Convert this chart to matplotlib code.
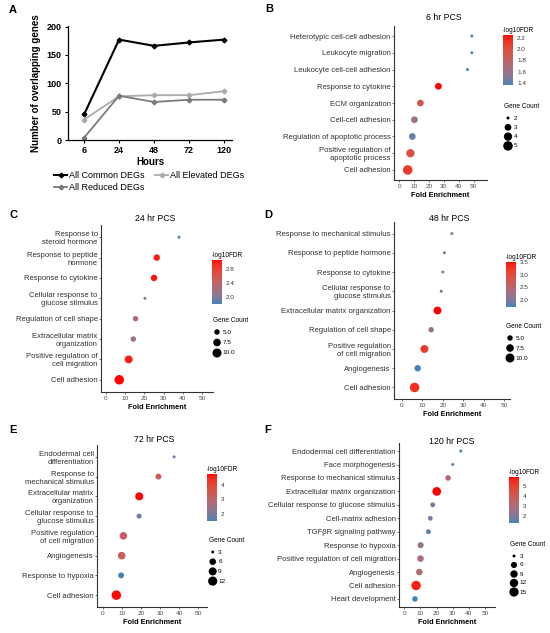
import numpy as np
import matplotlib
matplotlib.use("Agg")
import matplotlib.pyplot as plt
import matplotlib.colors as mcolors
from matplotlib.cm import ScalarMappable

plt.rcParams['font.family'] = ['Liberation Sans', 'DejaVu Sans']

# =====================================================================
# DATA
# =====================================================================
# Panel A - overlapping genes over time
hours = ['6', '24', '48', '72', '120']
common_degs = [45, 177, 166, 172, 177]
elevated_degs = [36, 77, 79, 79, 86]
reduced_degs = [4, 78, 67, 71, 71]

# Panel B - 6 hr PCS (terms listed top to bottom)
b_terms = ['Heterotypic cell-cell adhesion', 'Leukocyte migration', 'Leukocyte cell-cell adhesion',
           'Response to cytokine', 'ECM organization', 'Cell-cell adhesion',
           'Regulation of apoptotic process', 'Positive regulation of\napoptotic process', 'Cell adhesion']
b_fold = [48.8, 48.8, 45.9, 26.4, 14.3, 10.3, 8.9, 7.6, 5.8]
b_fdr = [1.38, 1.38, 1.36, 2.25, 1.92, 1.62, 1.45, 1.97, 2.1]
b_count = [2, 2, 2, 3, 3, 3, 3, 4, 5]

# Panel C - 24 hr PCS
c_terms = ['Response to\nsteroid hormone', 'Response to peptide\nhormone', 'Response to cytokine',
           'Cellular response to\nglucose stimulus', 'Regulation of cell shape',
           'Extracellular matrix\norganization', 'Positive regulation of\ncell migration', 'Cell adhesion']
c_fold = [38.0, 26.4, 25.0, 20.3, 15.4, 14.2, 11.8, 6.9]
c_fdr = [1.8, 3.0, 3.02, 2.0, 2.3, 2.15, 3.0, 3.06]
c_count = [4, 6, 6, 4, 5, 5, 8, 11]

# Panel D - 48 hr PCS
d_terms = ['Response to mechanical stimulus', 'Response to peptide hormone', 'Response to cytokine',
           'Cellular response to\nglucose stimulus', 'Extracellular matrix organization',
           'Regulation of cell shape', 'Positive regulation\nof cell migration', 'Angiogenesis',
           'Cell adhesion']
d_fold = [24.4, 20.8, 20.0, 19.2, 17.4, 14.3, 11.0, 7.7, 6.2]
d_fdr = [2.2, 1.95, 1.95, 1.95, 3.5, 2.2, 3.2, 1.73, 3.3]
d_count = [4, 4, 4, 4, 8, 5, 8, 6, 11]

# Panel E - 72 hr PCS
e_terms = ['Endodermal cell\ndifferentiation', 'Response to\nmechanical stimulus',
           'Extracellular matrix\norganization', 'Cellular response to\nglucose stimulus',
           'Positive regulation\nof cell migration', 'Angiogenesis', 'Response to hypoxia', 'Cell adhesion']
e_fold = [37.3, 29.1, 19.1, 19.0, 10.8, 9.9, 9.6, 7.1]
e_fdr = [1.8, 3.3, 4.8, 1.8, 3.2, 3.2, 1.48, 4.75]
e_count = [3, 5, 9, 4, 8, 8, 5, 13]

# Panel F - 120 hr PCS
f_terms = ['Endodermal cell differentiation', 'Face morphogenesis', 'Response to mechanical stimulus',
           'Extracellular matrix organization', 'Cellular response to glucose stimulus',
           'Cell-matrix adhesion', 'TGF\u03b2R signaling pathway', 'Response to hypoxia',
           'Positive regulation of cell migration', 'Angiogenesis', 'Cell adhesion', 'Heart development']
f_fold = [35.0, 30.0, 27.1, 20.1, 17.6, 16.1, 14.9, 10.1, 10.0, 9.3, 7.3, 6.6]
f_fdr = [1.5, 1.5, 3.3, 5.85, 2.0, 2.0, 1.7, 2.5, 3.0, 3.0, 5.5, 1.36]
f_count = [3, 3, 5, 13, 4, 4, 4, 6, 7, 7, 16, 5]

# =====================================================================
# LAYOUT (pixels of a 550x633 canvas)
# =====================================================================
W, H = 550, 633
DPI = 100
DOT_MIN, DOT_MAX = 3.0, 9.5   # point diameters in px
GREY = '#4D4D4D'


def rect(left, top, right, bottom):
    return [left / W, 1 - bottom / H, (right - left) / W, (bottom - top) / H]


def fx(x):
    return x / W


def fy(y):
    return 1 - y / H


# ggplot-like gradient (steelblue -> red) interpolated in Lab space
M = np.array([[0.4124, 0.3576, 0.1805], [0.2126, 0.7152, 0.0722], [0.0193, 0.1192, 0.9505]])
WHITE = np.array([0.95047, 1.0, 1.08883])


def to_lab(hexcol):
    c = np.array(mcolors.to_rgb(hexcol))
    lin = np.where(c <= 0.04045, c / 12.92, ((c + 0.055) / 1.055) ** 2.4)
    xyz = M @ lin / WHITE
    f = np.where(xyz > 0.008856, np.cbrt(xyz), 7.787 * xyz + 16 / 116)
    return np.array([116 * f[1] - 16, 500 * (f[0] - f[1]), 200 * (f[1] - f[2])])


def from_lab(lab):
    fy_ = (lab[0] + 16) / 116
    f = np.array([fy_ + lab[1] / 500, fy_, fy_ - lab[2] / 200])
    xyz = np.where(f ** 3 > 0.008856, f ** 3, (f - 16 / 116) / 7.787) * WHITE
    lin = np.clip(np.linalg.inv(M) @ xyz, 0, 1)
    c = np.where(lin <= 0.0031308, 12.92 * lin, 1.055 * lin ** (1 / 2.4) - 0.055)
    return np.clip(c, 0, 1)


lo, hi = to_lab('#4682B4'), to_lab('#FF0000')
CMAP = mcolors.ListedColormap([from_lab(lo + (hi - lo) * t) for t in np.linspace(0, 1, 128)])


def diam(v, vmin, vmax):
    frac = (np.asarray(v, float) - vmin) / (vmax - vmin)
    return DOT_MIN + (DOT_MAX - DOT_MIN) * np.sqrt(np.clip(frac, 0, 1))


def area(d_px):
    return (np.asarray(d_px) * 72 / DPI) ** 2


fig = plt.figure(figsize=(W / DPI, H / DPI), dpi=DPI)

# =====================================================================
# PANEL A
# =====================================================================
ax = fig.add_axes(rect(68, 26, 232, 140))
xs = np.arange(len(hours))
l1, = ax.plot(xs, common_degs, color='black', lw=1.5, marker='D', ms=2.4, label='All Common DEGs')
l2, = ax.plot(xs, elevated_degs, color='#ABABAB', lw=1.3, marker='D', ms=2.4, label='All Elevated DEGs')
l3, = ax.plot(xs, reduced_degs, color='#7A7A7A', lw=1.3, marker='D', ms=2.4, label='All Reduced DEGs')
ax.set_xticks(xs, hours)
ax.set_xlim(-0.46, 4.23)
ax.set_ylim(0, 201)
ax.set_yticks([0, 50, 100, 150, 200])
for s in ['top', 'right']:
    ax.spines[s].set_visible(False)
for s in ['left', 'bottom']:
    ax.spines[s].set_linewidth(0.9)
ax.tick_params(labelsize=6.5, length=2.5, width=0.8, pad=2)
for lab in ax.get_xticklabels() + ax.get_yticklabels():
    lab.set_fontweight('bold')
ax.set_xlabel('Hours', fontsize=7, fontweight='bold', labelpad=1.5)
ax.set_ylabel('Number of overlapping genes', fontsize=7, fontweight='bold', labelpad=4)
ax.legend(handles=[l1, l3, l2], ncol=2, fontsize=6.5, frameon=False,
          loc='upper left', bbox_to_anchor=(fx(54), fy(171.5)), bbox_transform=fig.transFigure,
          handlelength=1.45, handletextpad=0.2, columnspacing=1.2, labelspacing=0.33,
          borderaxespad=0, borderpad=0)


# =====================================================================
# DOT PLOT PANELS
# =====================================================================
def dot_panel(terms, fold, fdr, count, title, box, xlim, title_xy,
              cbar_box, cticks, clabels, size_breaks, size_labels, leg_x, leg_y, leg_step):
    ax = fig.add_axes(rect(*box))
    n = len(terms)
    ypos = np.arange(n, 0, -1)
    norm = mcolors.Normalize(vmin=min(fdr), vmax=max(fdr))
    smin, smax = min(count), max(count)
    ax.scatter(fold, ypos, s=area(diam(count, smin, smax)), c=fdr, cmap=CMAP, norm=norm,
               linewidths=0, zorder=3)
    ax.set_yticks(ypos, terms)
    ax.set_ylim(0.4, n + 0.6)
    ax.set_xlim(*xlim)
    ax.set_xticks([0, 10, 20, 30, 40, 50])
    for s in ['top', 'right']:
        ax.spines[s].set_visible(False)
    for s in ['left', 'bottom']:
        ax.spines[s].set_linewidth(0.8)
        ax.spines[s].set_color('#333333')
    ax.tick_params(axis='y', labelsize=5.5, length=1.6, width=0.5, pad=0.8,
                   colors='#333333', labelcolor='#303030')
    ax.tick_params(axis='x', labelsize=4.6, length=1.6, width=0.5, pad=1,
                   colors='#333333', labelcolor=GREY)
    ax.set_xlabel('Fold Enrichment', fontsize=5.3, fontweight='bold', labelpad=2.5)
    fig.text(fx(title_xy[0]), fy(title_xy[1]), title, ha='center', va='center', fontsize=6.3)

    # colour bar
    cax = fig.add_axes(rect(*cbar_box))
    cb = fig.colorbar(ScalarMappable(norm=norm, cmap=CMAP), cax=cax)
    cb.outline.set_visible(False)
    cb.set_ticks(cticks, labels=clabels)
    cax.tick_params(labelsize=4.6, length=1.5, width=0.4, colors='white', labelcolor='#333333', pad=1.5)
    fig.text(fx(cbar_box[0]), fy(cbar_box[1] - 1), '-log10FDR', ha='left', va='bottom', fontsize=4.7)

    # size legend
    fig.text(fx(leg_x - 4), fy(leg_y - 11), 'Gene Count', ha='left', va='center', fontsize=4.7)
    lax = fig.add_axes([0, 0, 1, 1], facecolor='none')
    lax.set_xlim(0, W)
    lax.set_ylim(H, 0)
    lax.axis('off')
    lys = leg_y + leg_step * np.arange(len(size_breaks))
    lax.scatter([leg_x] * len(size_breaks), lys, s=area(diam(size_breaks, smin, smax)),
                color='black', linewidths=0)
    for yy, lab in zip(lys, size_labels):
        lax.text(leg_x + 5.5, yy, lab, ha='left', va='center', fontsize=4.6)
    return ax


dot_panel(b_terms, b_fold, b_fdr, b_count, '6 hr PCS', (394, 26, 487, 180), (-3.4, 59), (444, 17),
          (503, 35, 513, 85), [1.4, 1.6, 1.8, 2.0, 2.2], ['1.4', '1.6', '1.8', '2.0', '2.2'],
          [2, 3, 4, 5], ['2', '3', '4', '5'], 508, 118, 9.3)

dot_panel(c_terms, c_fold, c_fdr, c_count, '24 hr PCS', (101, 225, 213, 392), (-2.6, 55.7), (155, 218),
          (212, 260, 222, 304), [2.0, 2.4, 2.8], ['2.0', '2.4', '2.8'],
          [5.0, 7.5, 10.0], ['5.0', '7.5', '10.0'], 217, 332, 10.5)

dot_panel(d_terms, d_fold, d_fdr, d_count, '48 hr PCS', (394, 222, 510, 399), (-3.9, 52.9), (449, 218),
          (506, 262, 516, 307), [2.0, 2.5, 3.0, 3.5], ['2.0', '2.5', '3.0', '3.5'],
          [5.0, 7.5, 10.0], ['5.0', '7.5', '10.0'], 510, 338, 10)

dot_panel(e_terms, e_fold, e_fdr, e_count, '72 hr PCS', (97, 445, 207, 607), (-3.0, 54.5), (154, 440),
          (207, 474, 217, 521), [2, 3, 4], ['2', '3', '4'],
          [3, 6, 9, 12], ['3', '6', '9', '12'], 212.7, 552, 9.7)

dot_panel(f_terms, f_fold, f_fdr, f_count, '120 hr PCS', (399, 443, 495, 607), (-3.3, 56.2), (452, 441),
          (509, 477, 519, 523), [2, 3, 4, 5], ['2', '3', '4', '5'],
          [3, 6, 9, 12, 15], ['3', '6', '9', '12', '15'], 514, 556, 9)

# panel letters
for letter, (px, py) in zip('ABCDEF', [(13, 10), (269, 9), (13, 215), (268, 215), (13, 430), (268, 430)]):
    fig.text(fx(px), fy(py), letter, ha='center', va='center', fontsize=8, fontweight='bold')

fig.savefig('out.png', dpi=DPI)
